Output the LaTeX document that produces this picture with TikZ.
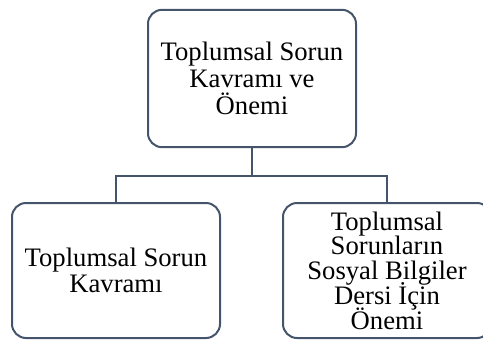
\documentclass[tikz,border=0pt]{standalone}
\usepackage{fontspec}
\setmainfont{Liberation Serif}
\definecolor{boxline}{HTML}{44546A}
\newcommand\boxfont[1]{\fontsize{20}{#1}\selectfont\lineskiplimit=-1000pt\relax}
\begin{document}
\begin{tikzpicture}[x=0.75pt,y=-0.75pt,
  orgbox/.style={draw=boxline, line width=1.5pt, rounded corners=10.5pt,
    minimum width=156pt, inner sep=0pt, align=center, text=black},
  link/.style={draw=boxline, line width=1.5pt}]
\useasboundingbox (0,0) rectangle (483,340);
\clip (0,0) rectangle (483,340);
\node[orgbox, minimum height=103pt, font=\boxfont{20.5}] (top) at (252,78.5)
  {Toplumsal Sorun\\Kavramı ve\\Önemi};
\node[orgbox, minimum height=101.25pt, font=\boxfont{19.5}] (left) at (116,270.5)
  {Toplumsal Sorun\\Kavramı};
\node[orgbox, minimum height=101.25pt, font=\boxfont{18.6}] (right) at (387,270.5)
  {Toplumsal\\Sorunların\\Sosyal Bilgiler\\Dersi İçin\\Önemi};
\coordinate (bus) at (252,176);
\draw[link] (top.south) -- (bus) -| (left.north);
\draw[link] (bus) -| (right.north);
\end{tikzpicture}
\end{document}
